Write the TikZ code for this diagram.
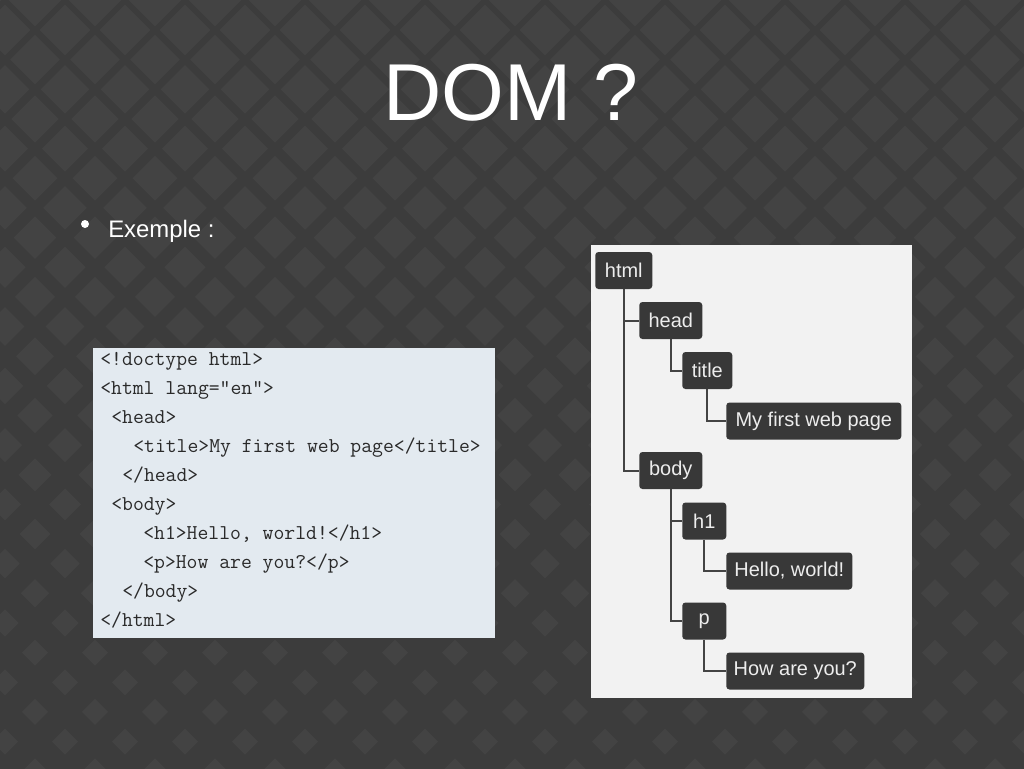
\documentclass[tikz,border=0pt]{standalone}
\usepackage{fontspec}
\setmainfont{Liberation Sans}
\usepackage{tikz}
\definecolor{slidebg}{HTML}{3C3C3C}
\definecolor{slidetile}{HTML}{434343}
\definecolor{codepanel}{HTML}{E3EAF0}
\definecolor{codeink}{HTML}{2A2A2A}
\definecolor{treepanel}{HTML}{F2F2F2}
\definecolor{treebox}{HTML}{383838}
\definecolor{treeink}{HTML}{EDEDED}
\definecolor{treeline}{HTML}{444444}

\tikzset{
    codeline/.style={anchor=base west, inner sep=0pt, text=codeink,
        font=\fontsize{15}{16}\selectfont\ttfamily},
    domnode/.style={anchor=west, fill=treebox, rounded corners=0.8mm,
        text=treeink, minimum height=9.25mm, inner sep=0pt,
        font=\fontsize{14.2}{16}\selectfont},
    domlink/.style={draw=treeline, line width=0.5mm},
}

\begin{document}
\begin{tikzpicture}[x=0.25mm, y=-0.25mm]
    \useasboundingbox (0,0) rectangle (1024,768);
    % slide background: diamond tiles, smaller towards the bottom
    \fill[slidebg] (-10,-10) rectangle (1034,778);
    \begin{scope}
        \clip (-10,-10) rectangle (1034,778);
        \foreach \j in {-1,...,26} {
            \foreach \i in {-1,...,17} {
                \pgfmathsetmacro\cy{30+29.65*\j}
                \pgfmathsetmacro\cx{5+60*\i+30*mod(\j,2)}
                \pgfmathsetmacro\r{max(13,26-0.02*\cy)}
                \fill[slidetile] (\cx,\cy-\r) -- (\cx+\r,\cy) -- (\cx,\cy+\r) -- (\cx-\r,\cy) -- cycle;
            }
        }
    \end{scope}

    % title and bullet
    \node[anchor=base, text=white, font=\fontsize{57.4}{60}\selectfont] (title) at (511,120) {DOM ?};
    \fill[white] (85,224) circle (1mm);
    \node[anchor=base west, inner sep=0pt, text=white, font=\fontsize{17}{20}\selectfont] (exemple) at (108,237) {Exemple :};

    % source code
    \fill[codepanel] (93,348) rectangle (495,638);
    \node[codeline] (c1) at (100,365) {<!doctype html>};
    \node[codeline] (c2) at (100,394) {<html lang="en">};
    \node[codeline] (c3) at (111,423) {<head>};
    \node[codeline] (c4) at (133,452) {<title>My first web page</title>};
    \node[codeline] (c5) at (122,481) {</head>};
    \node[codeline] (c6) at (111,510) {<body>};
    \node[codeline] (c7) at (143,539) {<h1>Hello, world!</h1>};
    \node[codeline] (c8) at (143,568) {<p>How are you?</p>};
    \node[codeline] (c9) at (122,597) {</body>};
    \node[codeline] (c10) at (100,626) {</html>};

    % DOM tree
    \fill[treepanel] (591,245) rectangle (912,698);
    \node[domnode, minimum width=14.25mm] (html) at (595,270.5) {html};
    \node[domnode, minimum width=15.75mm] (head) at (639,320.5) {head};
    \node[domnode, minimum width=12.5mm] (ttl) at (682,370.5) {title};
    \node[domnode, minimum width=43.75mm] (ttltext) at (726,421) {My first web page};
    \node[domnode, minimum width=15.75mm] (body) at (639,470.5) {body};
    \node[domnode, minimum width=11mm] (h1) at (682,521) {h1};
    \node[domnode, minimum width=31.5mm] (h1text) at (726,571) {Hello, world!};
    \node[domnode, minimum width=11mm] (p) at (682,621) {p};
    \node[domnode, minimum width=34.5mm] (ptext) at (726,671) {How are you?};

    \draw[domlink] (html.south) |- (head.west);
    \draw[domlink] (html.south) |- (body.west);
    \draw[domlink] (head.south) |- (ttl.west);
    \draw[domlink] (ttl.south) |- (ttltext.west);
    \draw[domlink] (body.south) |- (h1.west);
    \draw[domlink] (body.south) |- (p.west);
    \draw[domlink] (h1.south) |- (h1text.west);
    \draw[domlink] (p.south) |- (ptext.west);
\end{tikzpicture}
\end{document}
